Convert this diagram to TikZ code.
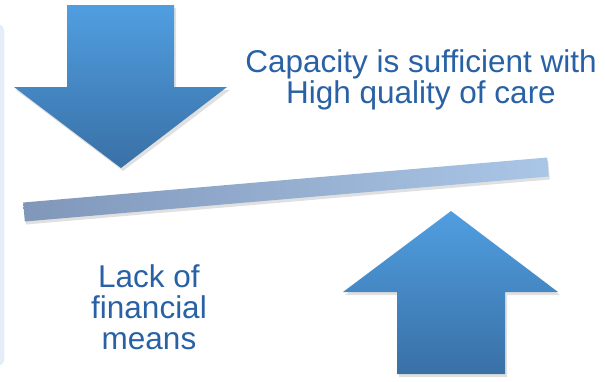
\documentclass[tikz,border=0pt]{standalone}
\usepackage{fontspec}
\setmainfont{Liberation Sans}
\usetikzlibrary{calc}
\definecolor{txtblue}{RGB}{40,97,165}
\definecolor{arrtop}{RGB}{80,158,224}
\definecolor{arrbot}{RGB}{57,112,166}
\definecolor{beamleft}{RGB}{128,151,186}
\definecolor{beamright}{RGB}{170,198,231}
\definecolor{boxfill}{RGB}{229,238,248}
\definecolor{boxline}{RGB}{214,228,243}
\tikzset{
	arrowfill/.style={top color=arrtop, bottom color=arrbot, draw=none},
	softshadow/.style={fill=black, opacity=0.12, draw=none},
	bigtext/.style={text=txtblue, align=center, font=\fontsize{31.5}{31}\selectfont}
}

\begin{document}
\begin{tikzpicture}[x=1pt,y=-1pt]
		%%%%% START %%%%%
		\useasboundingbox (0,0) rectangle (605,381);
		
		\draw[fill=boxfill, draw=boxline, rounded corners=8pt] (-20, 24) rectangle (4, 366);
		
		% down arrow
		\fill[softshadow] (69, 8) -- (176, 8) -- (176, 90) -- (230, 90) -- (123, 171) -- (16, 90) -- (69, 90) -- cycle;
		\shade[arrowfill] (67, 5) -- (174, 5) -- (174, 87) -- (227, 87) -- (121, 168) -- (14, 87) -- (67, 87) -- cycle;
		
		% beam
		\coordinate (bl1) at (23.2, 202.5);
		\coordinate (bl2) at (24.8, 221.5);
		\coordinate (br1) at (547.2, 157.5);
		\coordinate (br2) at (548.8, 176.5);
		\fill[softshadow] ($(bl1)+(1,3)$) -- ($(bl2)+(1,3)$) -- ($(br2)+(1,3)$) -- ($(br1)+(1,3)$) -- cycle;
		\shade[left color=beamleft, right color=beamright] (bl1) -- (bl2) -- (br2) -- (br1) -- cycle;
		
		% up arrow
		\fill[softshadow] (399, 377) -- (507, 377) -- (507, 295) -- (560, 295) -- (453, 214) -- (345, 295) -- (399, 295) -- cycle;
		\shade[arrowfill] (397, 374) -- (505, 374) -- (505, 292) -- (558, 292) -- (451, 211) -- (343, 292) -- (397, 292) -- cycle;
		
		\node[bigtext] (capacity) at (421, 80) {Capacity is sufficient with\\High quality of care};
		\node[bigtext] (lack) at (149, 307) {Lack of\\financial\\means};
		%%%%% END %%%%%
\end{tikzpicture}
\end{document}
